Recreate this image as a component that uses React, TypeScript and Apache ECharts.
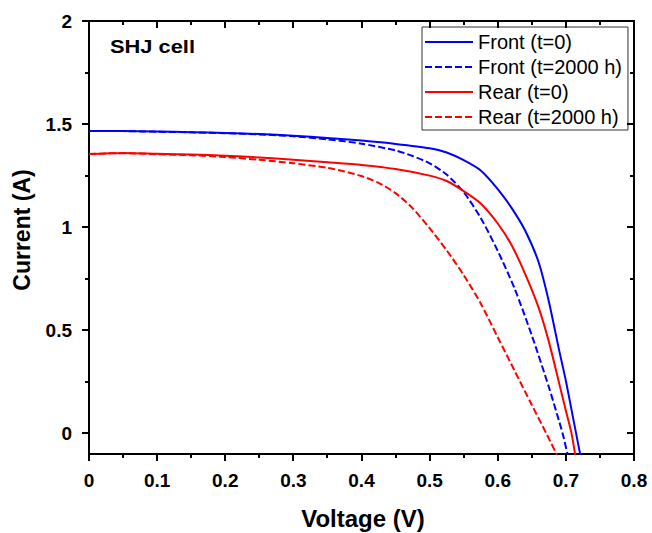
import React, { useEffect, useRef } from "react";
import * as echarts from "echarts";

// Voltage (V) / Current (A)
const frontT0V = [0, 0.05, 0.1, 0.15, 0.2, 0.25, 0.3, 0.35, 0.4, 0.45, 0.5, 0.525, 0.55, 0.575, 0.6, 0.62, 0.64, 0.66, 0.675, 0.69, 0.7, 0.71, 0.72, 0.7215];
const frontT0I = [1.467, 1.466, 1.464, 1.461, 1.457, 1.452, 1.444, 1.433, 1.42, 1.404, 1.383, 1.362, 1.325, 1.275, 1.185, 1.095, 0.985, 0.83, 0.64, 0.405, 0.255, 0.085, -0.085, -0.11];

const frontT2000V = [0, 0.05, 0.1, 0.15, 0.2, 0.25, 0.3, 0.35, 0.4, 0.45, 0.475, 0.5, 0.525, 0.55, 0.575, 0.6, 0.625, 0.65, 0.675, 0.69, 0.696, 0.703];
const frontT2000I = [1.467, 1.466, 1.463, 1.46, 1.456, 1.45, 1.441, 1.426, 1.405, 1.372, 1.345, 1.31, 1.255, 1.17, 1.045, 0.885, 0.7, 0.475, 0.225, 0.06, -0.01, -0.11];

const rearT0V = [0, 0.03, 0.05, 0.1, 0.15, 0.2, 0.25, 0.3, 0.35, 0.4, 0.45, 0.5, 0.525, 0.55, 0.575, 0.6, 0.62, 0.64, 0.66, 0.675, 0.69, 0.7, 0.708, 0.714];
const rearT0I = [1.355, 1.358, 1.36, 1.356, 1.352, 1.347, 1.338, 1.327, 1.315, 1.302, 1.282, 1.25, 1.224, 1.175, 1.115, 1.018, 0.915, 0.775, 0.61, 0.445, 0.245, 0.11, 0.005, -0.11];

const rearT2000V = [0, 0.03, 0.05, 0.1, 0.15, 0.2, 0.25, 0.3, 0.35, 0.375, 0.4, 0.425, 0.45, 0.475, 0.5, 0.525, 0.55, 0.575, 0.6, 0.625, 0.65, 0.672, 0.687];
const rearT2000I = [1.355, 1.358, 1.359, 1.354, 1.349, 1.34, 1.327, 1.31, 1.288, 1.27, 1.248, 1.215, 1.165, 1.092, 0.995, 0.888, 0.768, 0.63, 0.466, 0.302, 0.138, -0.005, -0.105];

const seriesNames = ["Front (t=0)", "Front (t=2000 h)", "Rear (t=0)", "Rear (t=2000 h)"];
const xMajorTicks = [0, 0.1, 0.2, 0.3, 0.4, 0.5, 0.6, 0.7, 0.8];
const xMinorTicks = [0.05, 0.15, 0.25, 0.35, 0.45, 0.55, 0.65, 0.75];
const yMajorTicks = [0, 0.5, 1, 1.5, 2];
const yMinorTicks = [0.25, 0.75, 1.25, 1.75];
const X_MIN = 0;
const X_MAX = 0.8;
const Y_MIN = -0.1;
const Y_MAX = 2;

const pairs = (xs: number[], ys: number[]) => xs.map((x, i) => [x, ys[i]]);

export default function App() {
  const ref = useRef<HTMLDivElement>(null);
  useEffect(() => {
    if (!ref.current) return;
    const chart = echarts.init(ref.current, null, { renderer: "svg" });
    const font = "'Liberation Sans', Arial, sans-serif";
    const labelStyle = { color: "#000", fontSize: 19, fontWeight: "bold" as const, fontFamily: font };
    const fmt = (v: number) => String(Math.round(v * 100) / 100);
    const dashed = [7, 3];
    const G = { left: 89, right: 18, top: 21, bottom: 79 };
    const mk = (name: string, xs: number[], ys: number[], color: string, dash: any) => ({
      name,
      type: "line",
      data: pairs(xs, ys),
      showSymbol: false,
      symbol: "none",
      smooth: 0.25,
      lineStyle: { color, width: 2, type: dash },
      itemStyle: { color },
    });
    chart.setOption({
      animation: false,
      backgroundColor: "#fff",
      grid: { ...G, show: true, borderColor: "#000", borderWidth: 2, backgroundColor: "transparent" },
      xAxis: {
        type: "value",
        min: X_MIN,
        max: X_MAX,
        splitLine: { show: false },
        axisLine: { show: false, onZero: false },
        axisTick: { show: false },
        axisLabel: { ...labelStyle, margin: 17, customValues: xMajorTicks, formatter: fmt },
      },
      yAxis: {
        type: "value",
        min: Y_MIN,
        max: Y_MAX,
        splitLine: { show: false },
        axisLine: { show: false, onZero: false },
        axisTick: { show: false },
        axisLabel: { ...labelStyle, margin: 17, customValues: yMajorTicks, formatter: fmt },
      },
      legend: {
        data: seriesNames,
        orient: "vertical",
        left: 422,
        top: 27,
        itemWidth: 48,
        itemHeight: 14,
        itemGap: 5,
        padding: [5, 6, 3, 2],
        borderColor: "#333",
        borderWidth: 1,
        backgroundColor: "#fff",
        itemStyle: { opacity: 0 },
        textStyle: { color: "#000", fontSize: 20, fontFamily: font },
      },
      series: [
        mk(seriesNames[0], frontT0V, frontT0I, "#0000ff", "solid"),
        mk(seriesNames[1], frontT2000V, frontT2000I, "#0000ff", dashed),
        mk(seriesNames[2], rearT0V, rearT0I, "#ff0000", "solid"),
        mk(seriesNames[3], rearT2000V, rearT2000I, "#ff0000", dashed),
      ],
    });

    // grid edges from the layout, tick positions from the chart's scales (with a linear fallback)
    const W = chart.getWidth();
    const H = chart.getHeight();
    const gl = G.left;
    const gr = W - G.right;
    const gt = G.top;
    const gb = H - G.bottom;
    const lin = (v: number, a0: number, a1: number, p0: number, p1: number) => p0 + ((v - a0) / (a1 - a0)) * (p1 - p0);
    const px = (v: number) => {
      const r = Number(chart.convertToPixel({ xAxisIndex: 0 }, v));
      return Number.isFinite(r) ? r : lin(v, X_MIN, X_MAX, gl, gr);
    };
    const py = (v: number) => {
      const r = Number(chart.convertToPixel({ yAxisIndex: 0 }, v));
      return Number.isFinite(r) ? r : lin(v, Y_MIN, Y_MAX, gb, gt);
    };
    const tickStyle = { fill: "#000" };
    const ticks: any[] = [];
    const addX = (vals: number[], len: number) =>
      vals.forEach((v) => {
        const x = Math.round(px(v)) - 1;
        ticks.push({ type: "rect", silent: true, z: 100, shape: { x, y: gb, width: 2, height: len }, style: tickStyle });
        ticks.push({ type: "rect", silent: true, z: 100, shape: { x, y: gt, width: 2, height: len }, style: tickStyle });
      });
    const addY = (vals: number[], len: number) =>
      vals.forEach((v) => {
        const y = Math.round(py(v)) - 1;
        ticks.push({ type: "rect", silent: true, z: 100, shape: { x: gl - len, y, width: len, height: 2 }, style: tickStyle });
        ticks.push({ type: "rect", silent: true, z: 100, shape: { x: gr - len, y, width: len, height: 2 }, style: tickStyle });
      });
    addX(xMajorTicks, 7);
    addX(xMinorTicks, 4);
    addY(yMajorTicks, 7);
    addY(yMinorTicks, 4);

    chart.setOption({
      graphic: [
        {
          type: "text",
          left: 110,
          top: 37,
          scaleX: 1.15,
          style: { text: "SHJ cell", fill: "#000", font: `bold 19px ${font}` },
        },
        {
          type: "text",
          x: 363,
          y: 518,
          style: { text: "Voltage (V)", fill: "#000", font: `bold 24px ${font}`, align: "center", verticalAlign: "middle" },
        },
        {
          type: "text",
          x: 22,
          y: 230,
          rotation: Math.PI / 2,
          style: { text: "Current (A)", fill: "#000", font: `bold 23px ${font}`, align: "center", verticalAlign: "middle" },
        },
        ...ticks,
      ],
    });
    return () => chart.dispose();
  }, []);
  return <div ref={ref} style={{ position: "fixed", left: 0, top: 0, width: 652, height: 533, background: "#fff" }} />;
}
